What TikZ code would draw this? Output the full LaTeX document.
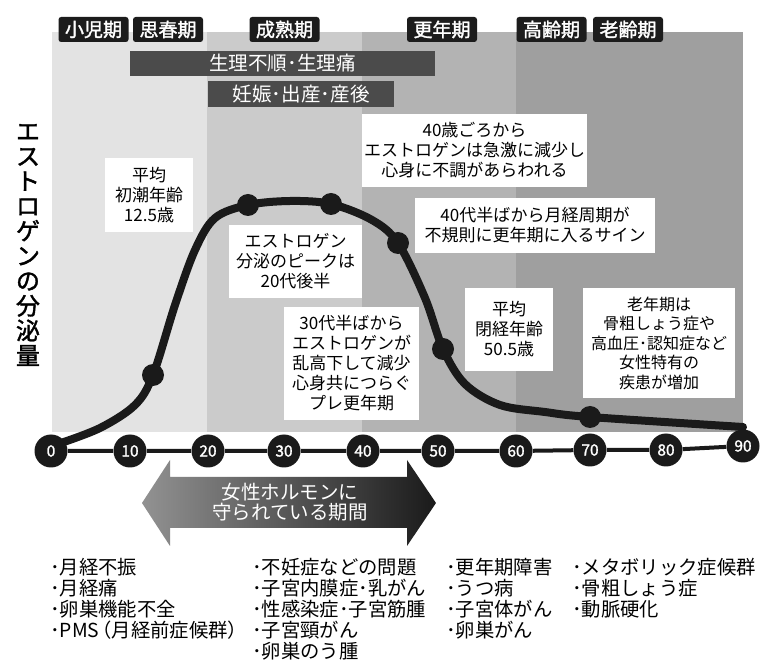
\documentclass[tikz,border=0pt]{standalone}
\usepackage{fontspec}
\setmainfont{Noto Sans CJK JP}
\newfontfamily\medfont{Noto Sans CJK JP}[FakeBold=1.6]
\definecolor{ink}{HTML}{1A1A1A}
\definecolor{lab}{HTML}{1C1C1C}
\definecolor{barc}{HTML}{4B4B4B}
\definecolor{bandA}{HTML}{E3E3E3}
\definecolor{bandB}{HTML}{CBCBCB}
\definecolor{bandC}{HTML}{B3B3B3}
\definecolor{bandD}{HTML}{9F9F9F}
\definecolor{arrL}{HTML}{929292}
\definecolor{arrR}{HTML}{1A1A1A}
\begin{document}
\begin{tikzpicture}[x=0.75pt,y=-0.75pt,
  period/.style={fill=lab, rounded corners=2pt, text=white, font=\medfont\fontsize{14.25}{16}\selectfont, minimum width=52.5pt, minimum height=18.75pt, inner sep=0pt},
  barbox/.style={fill=barc, text=white, font=\fontsize{14.7}{16}\selectfont, inner sep=0pt},
  note/.style={fill=white, align=center, inner sep=0pt, font=\fontsize{12.75}{15}\selectfont},
  tickc/.style={circle, fill=ink, text=white, minimum size=24.75pt, inner sep=0pt, font=\medfont\fontsize{11.6}{12}\selectfont},
  dotc/.style={circle, fill=ink, minimum size=16.5pt, inner sep=0pt},
  lst/.style={anchor=west, align=left, inner sep=0pt, font=\fontsize{14.5}{15.75}\selectfont}]
\useasboundingbox (0,0) rectangle (768,666);
\fill[white] (0,0) rectangle (768,666);

% life stage bands
\fill[bandA] (52,32) rectangle (207,432);
\fill[bandB] (207,32) rectangle (362,432);
\fill[bandC] (362,32) rectangle (516,432);
\fill[bandD] (516,32) rectangle (743,432);

% stage labels
\node[period] (s1) at (93.5,29.5) {小児期};
\node[period] (s2) at (168,29.5) {思春期};
\node[period] (s3) at (284.5,29.5) {成熟期};
\node[period] (s4) at (442,29.5) {更年期};
\node[period] (s5) at (551.5,29.5) {高齢期};
\node[period] (s6) at (628,29.5) {老齢期};

% bars
\node[barbox, minimum width=228.75pt, minimum height=18.75pt] (bar1) at (282.5,63.5) {生理不順･生理痛};
\node[barbox, minimum width=139.5pt, minimum height=19.5pt] (bar2) at (301,94) {妊娠･出産･産後};

% y label
\node[align=center, inner sep=0pt, font=\medfont\fontsize{18}{18.7}\selectfont] (ylab) at (28,245) {エ\\ス\\ト\\ロ\\ゲ\\ン\\の\\分\\泌\\量};

% notes
\node[note, minimum width=66pt, minimum height=55.5pt] (b1) at (149,195) {平均\\初潮年齢\\12.5歳};
\node[note, minimum width=99.75pt, minimum height=54.75pt] (b2) at (295.5,261.5) {エストロゲン\\分泌のピークは\\20代後半};
\node[note, minimum width=101.25pt, minimum height=84.75pt] (b3) at (351.5,363.5) {30代半ばから\\エストロゲンが\\乱高下して減少\\心身共につらぐ\\プレ更年期};
\node[note, minimum width=168.75pt, minimum height=54.75pt] (b4) at (474.5,150.5) {40歳ごろから\\エストロゲンは急激に減少し\\心身に不調があらわれる};
\node[note, minimum width=180pt, minimum height=41.25pt] (b5) at (535,225.5) {40代半ばから月経周期が\\不規則に更年期に入るサイン};
\node[note, minimum width=66pt, minimum height=62.25pt] (b6) at (509,329.5) {平均\\閉経年齢\\50.5歳};
\node[note, minimum width=114pt, minimum height=82.5pt, font=\fontsize{12}{14.6}\selectfont] (b7) at (659,343) {老年期は\\骨粗しょう症や\\高血圧･認知症など\\女性特有の\\疾患が増加};

% curve
\coordinate (c0) at (58,444);
\coordinate (c1) at (100,428);
\coordinate (c2) at (135,405);
\coordinate (d1) at (153,375);
\coordinate (c3) at (175,305);
\coordinate (c4) at (195,250);
\coordinate (c5) at (215,218);
\coordinate (d2) at (248,205);
\coordinate (c6) at (290,201);
\coordinate (d3) at (331,204);
\coordinate (c7) at (372,220);
\coordinate (d4) at (398,243);
\coordinate (c8) at (425,298);
\coordinate (d5) at (443,349);
\coordinate (c9) at (465,384);
\coordinate (c10) at (500,405);
\coordinate (c11) at (545,412);
\coordinate (d6) at (590,417);
\coordinate (cend) at (743,427);
\draw[ink, line width=6pt, line cap=round] plot[smooth, tension=0.55] coordinates {(c0) (c1) (c2) (d1) (c3) (c4) (c5) (d2) (c6) (d3) (c7) (d4) (c8) (d5) (c9) (c10) (c11) (d6) (cend)};
\node[dotc] (p1) at (d1) {};
\node[dotc] (p2) at (d2) {};
\node[dotc] (p3) at (d3) {};
\node[dotc] (p4) at (d4) {};
\node[dotc] (p5) at (d5) {};
\node[dotc] (p6) at (d6) {};

% age axis
\node[tickc] (t0) at (51,451) {0};
\node[tickc] (t10) at (130,451) {10};
\node[tickc] (t20) at (208,451) {20};
\node[tickc] (t30) at (284,451) {30};
\node[tickc] (t40) at (363,451) {40};
\node[tickc] (t50) at (438,451) {50};
\node[tickc] (t60) at (516,451) {60};
\node[tickc] (t70) at (590,450) {70};
\node[tickc] (t80) at (666,450) {80};
\node[tickc] (t90) at (743,446) {90};
\draw[ink, line width=3pt] (t0) -- (t10) -- (t20) -- (t30) -- (t40) -- (t50) -- (t60) -- (t70) -- (t80) -- (t90);

% protection arrow
\shade[left color=arrL, right color=arrR] (142,503) -- (170,460) -- (170,477) -- (407,477) -- (407,460) -- (436,503) -- (407,546) -- (407,528) -- (170,528) -- (170,546) -- cycle;
\node[text=white, align=center, inner sep=0pt, font=\fontsize{14.6}{15}\selectfont] (arrtxt) at (290,502) {女性ホルモンに\\守られている期間};

% lists
\node[lst] (l1) at (50,598.5) {･月経不振\\･月経痛\\･卵巣機能不全\\･PMS\hspace{-0.35em}（月経前症候群）};
\node[lst] (l2) at (252,609) {･不妊症などの問題\\･子宮内膜症･乳がん\\･性感染症･子宮筋腫\\･子宮頸がん\\･卵巣のう腫};
\node[lst] (l3) at (446,598.5) {･更年期障害\\･うつ病\\･子宮体がん\\･卵巣がん};
\node[lst] (l4) at (572,588) {･メタボリック症候群\\･骨粗しょう症\\･動脈硬化};
\end{tikzpicture}
\end{document}
